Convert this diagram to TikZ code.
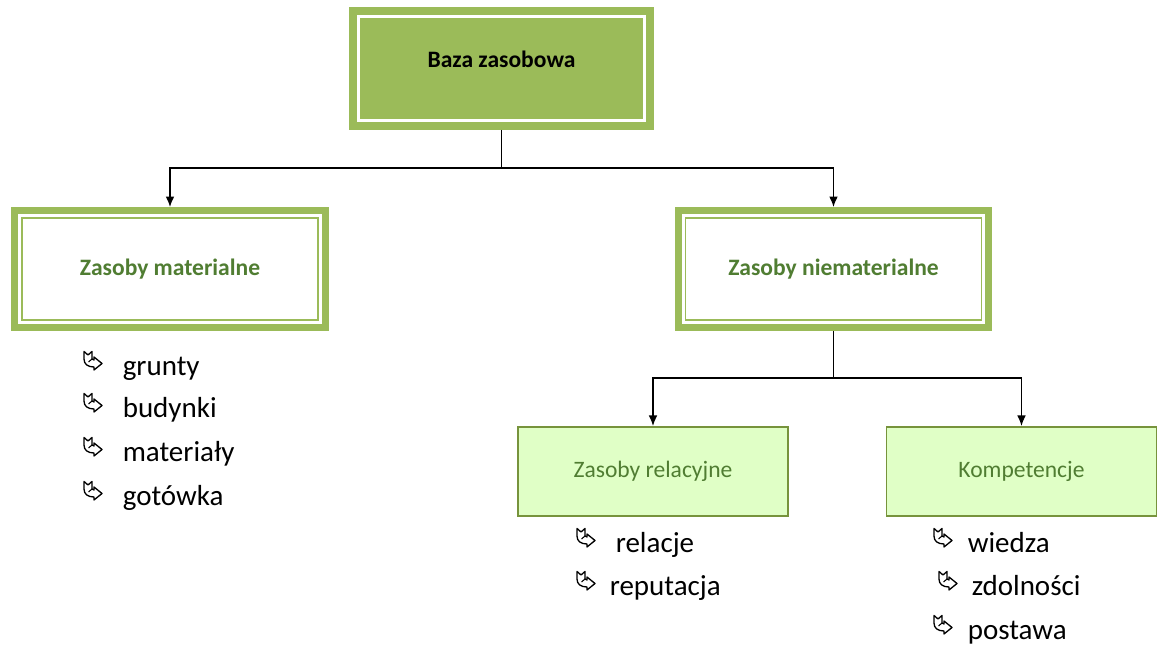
\documentclass[tikz,border=0pt]{standalone}
\usepackage{fontspec}
\setmainfont{Carlito}
\usepackage{xcolor}
\usetikzlibrary{arrows.meta}
\definecolor{boxgreen}{RGB}{155,187,89}
\definecolor{darkgreen}{RGB}{80,125,50}
\definecolor{linegreen}{RGB}{119,147,60}
\definecolor{lightlime}{RGB}{224,255,198}

\tikzset{
  topbox/.style={fill=boxgreen, draw=white, line width=1.7pt,
    preaction={draw=boxgreen, line width=10.8pt},
    minimum width=5.72cm, minimum height=2.08cm, outer sep=5.4pt,
    text height=9pt, text depth=10pt,
    font=\fontsize{13.4}{16}\selectfont\bfseries},
  mainbox/.style={fill=white, draw=boxgreen, line width=1.1pt,
    preaction={draw=boxgreen, line width=12.5pt},
    preaction={draw=white, line width=4.5pt},
    minimum width=5.92cm, minimum height=2.04cm, outer sep=6.2pt,
    text=darkgreen, font=\fontsize{13.4}{16}\selectfont\bfseries},
  subbox/.style={fill=lightlime, draw=linegreen, line width=1.1pt,
    minimum width=5.4cm, minimum height=1.78cm,
    text=darkgreen, font=\fontsize{13.4}{16}\selectfont},
  item/.style={inner sep=0pt, anchor=base west,
    font=\fontsize{16.5}{20}\selectfont},
  ribbon/.pic={
    \draw[line width=0.75pt, line join=round]
      (0,0.37) -- (0.08,0.30) -- (0.16,0.37) -- (0.16,0.22)
      .. controls (0.17,0.2) .. (0.2,0.2) -- (0.2,0.26) -- (0.36,0.13)
      -- (0.2,0) -- (0.2,0.06)
      .. controls (0.07,0.06) and (0,0.12) .. (0,0.22) -- cycle;
    \draw[line width=0.6pt] (0.16,0.22) -- (0.09,0.16);
  }
}

\begin{document}
\begin{tikzpicture}[>={Latex[length=6pt,width=5pt]}, line width=0.9pt]
    \useasboundingbox (0,0) rectangle (23.14,12.9);

    % Boxes
    \node[topbox] (top) at (10.03,11.53) {Baza zasobowa};
    \node[mainbox] (mat) at (3.40,7.52) {Zasoby materialne};
    \node[mainbox] (nmat) at (16.67,7.52) {Zasoby niematerialne};
    \node[subbox] (rel) at (13.06,3.47) {Zasoby relacyjne};
    \node[subbox] (komp) at (20.43,3.47) {Kompetencje};

    % Connectors
    \draw (top.south) -- ++(0,-0.76) coordinate (split1);
    \draw[->] (split1) -| (mat.north);
    \draw[->] (split1) -| (nmat.north);
    \draw (nmat.south) -- ++(0,-0.94) coordinate (split2);
    \draw[->] (split2) -| (rel.north);
    \draw[->] (split2) -| (komp.north);

    % Lists
    \foreach \name/\x/\y/\dx/\txt in {
        grunty/2.44/5.38/-0.76/grunty,
        budynki/2.44/4.54/-0.76/budynki,
        materialy/2.44/3.66/-0.76/materiały,
        gotowka/2.44/2.78/-0.76/gotówka,
        relacje/12.30/1.84/-0.76/relacje,
        reputacja/12.18/0.98/-0.64/reputacja,
        wiedza/19.34/1.84/-0.66/wiedza,
        zdolnosci/19.42/0.98/-0.64/zdolności,
        postawa/19.34/0.10/-0.66/postawa}
    {
        \node[item] (\name) at (\x,\y) {\txt};
        \pic at ([xshift=\dx cm, yshift=0.12cm]\name.base west) {ribbon};
    }
\end{tikzpicture}
\end{document}
